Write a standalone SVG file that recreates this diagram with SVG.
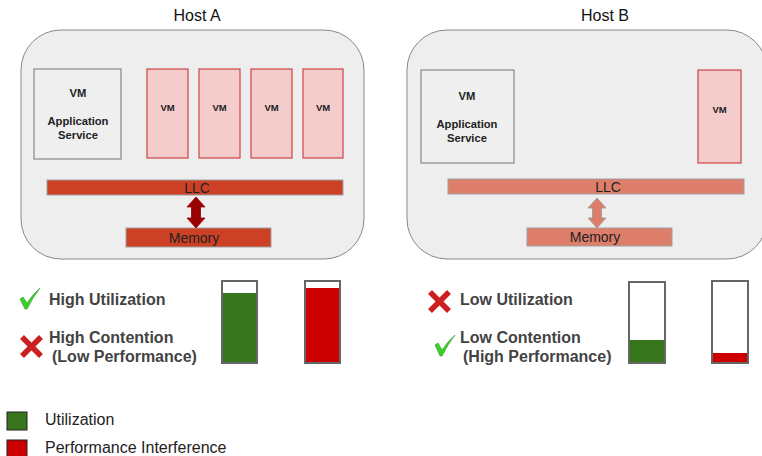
<svg xmlns="http://www.w3.org/2000/svg" width="762" height="456" viewBox="0 0 762 456">
<style>
text{font-family:"Liberation Sans",Arial,sans-serif}
.host{fill:#eeeeee;stroke:#888888;stroke-width:1}
.title{font-size:16px;fill:#111;text-anchor:middle}
.app{fill:#efefef;stroke:#888888;stroke-width:1.2}
.vm{fill:#f4cccc;stroke:#cc4444;stroke-width:1.2}
.vmt{font-size:9.5px;font-weight:bold;fill:#222;text-anchor:middle}
.appt{font-size:11.2px;font-weight:bold;fill:#222;text-anchor:middle}
.barA{fill:#cc4125;stroke:#a0a0a0;stroke-width:1}
.barB{fill:#dd7e6b;stroke:#a0a0a0;stroke-width:1}
.bart{font-size:14px;fill:#222;text-anchor:middle}
.lab{font-size:16px;font-weight:bold;fill:#434343}
.leg{font-size:16px;fill:#222}
.gauge{fill:#ffffff;stroke:#666666;stroke-width:2}
.check{fill:#3ccf2c;stroke:#2a9a20;stroke-width:0.6;stroke-linejoin:round}
.cross{stroke:#cc1f1f;stroke-width:5.5;stroke-linecap:butt}
</style>

<g id="hostA">
<text class="title" x="197" y="21">Host A</text>
<rect class="host" x="21" y="30" width="343" height="229" rx="40"/>
</g>
<g id="hostB">
<text class="title" x="605" y="21">Host B</text>
<rect class="host" x="407" y="30" width="360" height="229" rx="40"/>
</g>

<g id="appA">
<rect class="app" x="34" y="69" width="87" height="90"/>
<text class="appt" x="78" y="97">VM</text>
<text class="appt" x="78" y="125">Application</text>
<text class="appt" x="78" y="139">Service</text>
</g>
<g id="vmA1"><rect class="vm" x="147" y="69" width="41" height="89"/><text class="vmt" x="167.5" y="111">VM</text></g>
<g id="vmA2"><rect class="vm" x="199" y="69" width="41" height="89"/><text class="vmt" x="219.5" y="111">VM</text></g>
<g id="vmA3"><rect class="vm" x="251" y="69" width="41" height="89"/><text class="vmt" x="271.5" y="111">VM</text></g>
<g id="vmA4"><rect class="vm" x="303" y="69" width="40" height="89"/><text class="vmt" x="323" y="111">VM</text></g>

<g id="llcA"><rect class="barA" x="47" y="180" width="296" height="15"/><text class="bart" x="197" y="193">LLC</text></g>
<g id="memA"><rect class="barA" x="126" y="228" width="145" height="19"/><text class="bart" x="194" y="243">Memory</text></g>

<g id="appB">
<rect class="app" x="421" y="70" width="93" height="93"/>
<text class="appt" x="467" y="100">VM</text>
<text class="appt" x="467" y="128">Application</text>
<text class="appt" x="467" y="142">Service</text>
</g>
<g id="vmB1"><rect class="vm" x="698" y="70" width="43" height="93"/><text class="vmt" x="719.5" y="113">VM</text></g>

<g id="llcB"><rect class="barB" x="448" y="179" width="296" height="15"/><text class="bart" x="608" y="192">LLC</text></g>
<g id="memB"><rect class="barB" x="527" y="228" width="145" height="18"/><text class="bart" x="595" y="242">Memory</text></g>

<g id="connectors">
<polygon points="196,197 205,207 200.5,207 200.5,218 205,218 196,228 187,218 191.5,218 191.5,207 187,207" fill="#990000" stroke="#990000" stroke-width="0.8"/>
<polygon points="597,198 606,208 601.5,208 601.5,218 606,218 597,228 588,218 592.5,218 592.5,208 588,208" fill="#dd7e6b" stroke="#999999" stroke-width="0.8"/>
</g>

<g id="statusA">
<path class="check" d="M20,299 L23,297 L27,303 Q32,295 40,288 Q33,297 27,309 L25,309 Z"/>
<text class="lab" x="49" y="305">High Utilization</text>
<line class="cross" x1="22" y1="337" x2="41" y2="356"/>
<line class="cross" x1="41" y1="337" x2="22" y2="356"/>
<text class="lab" x="49" y="343">High Contention</text>
<text class="lab" x="52" y="362">(Low Performance)</text>
</g>
<g id="gaugesA">
<rect class="gauge" x="222" y="281" width="35" height="82"/>
<rect x="223" y="293" width="33" height="69" fill="#38761d"/>
<rect class="gauge" x="305" y="281" width="35" height="82"/>
<rect x="306" y="288" width="33" height="74" fill="#cc0000"/>
</g>

<g id="statusB">
<line class="cross" x1="430" y1="292" x2="449" y2="311"/>
<line class="cross" x1="449" y1="292" x2="430" y2="311"/>
<text class="lab" x="460" y="305">Low Utilization</text>
<path class="check" d="M435,345 L438,343 L442,350 Q447,342 455,335 Q448,344 442,356 L440,356 Z"/>
<text class="lab" x="460" y="343">Low Contention</text>
<text class="lab" x="463" y="362">(High Performance)</text>
</g>
<g id="gaugesB">
<rect class="gauge" x="629" y="282" width="36" height="81"/>
<rect x="630" y="340" width="34" height="22" fill="#38761d"/>
<rect class="gauge" x="712" y="281" width="36" height="82"/>
<rect x="713" y="353" width="34" height="9" fill="#cc0000"/>
</g>

<g id="legend">
<rect x="7" y="412" width="20" height="18" fill="#38761d" stroke="#222" stroke-width="1"/>
<text class="leg" x="45" y="425">Utilization</text>
<rect x="7" y="440" width="20" height="18" fill="#cc0000" stroke="#222" stroke-width="1"/>
<text class="leg" x="45" y="453">Performance Interference</text>
</g>
</svg>
